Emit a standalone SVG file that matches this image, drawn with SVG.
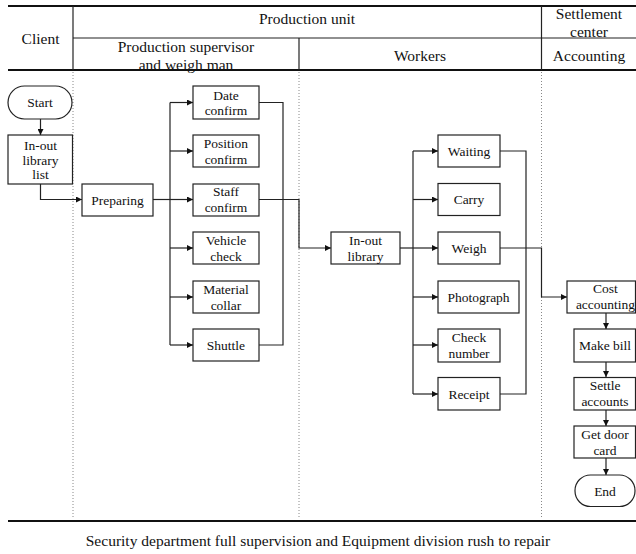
<svg xmlns="http://www.w3.org/2000/svg" width="636" height="554" viewBox="0 0 636 554">
<defs>
<style>
.hdr{font-family:"Liberation Serif","Times New Roman",serif;font-size:15.5px;fill:#111;text-anchor:middle}
.t{font-family:"Liberation Serif","Times New Roman",serif;font-size:13.5px;fill:#111;text-anchor:middle}
.box{fill:#fff;stroke:#222;stroke-width:1.2}
.c{fill:none;stroke:#222;stroke-width:1.2}
.dot{fill:none;stroke:#888;stroke-width:1;stroke-dasharray:1 2}
.rule{stroke:#111;stroke-width:2}
.thin{stroke:#222;stroke-width:1.2}
</style>
<marker id="ah" viewBox="0 0 10 10" refX="10" refY="5" markerWidth="6" markerHeight="6" markerUnits="userSpaceOnUse" orient="auto">
<path d="M0,0 L10,5 L0,10 z" fill="#111"/>
</marker>
</defs>
<rect width="636" height="554" fill="#fff"/>

<g id="header">
<line class="rule" x1="8" y1="6" x2="636" y2="6"/>
<line class="thin" x1="73" y1="38" x2="636" y2="38"/>
<line class="rule" x1="8" y1="70" x2="636" y2="70"/>
<line class="thin" x1="73" y1="6" x2="73" y2="70"/>
<line class="thin" x1="299" y1="38" x2="299" y2="70"/>
<line class="thin" x1="541.5" y1="6" x2="541.5" y2="70"/>
<text class="hdr" x="40.5" y="44">Client</text>
<text class="hdr" x="307" y="24">Production unit</text>
<text class="hdr" x="186" y="52">Production supervisor</text>
<text class="hdr" x="186" y="70">and weigh man</text>
<text class="hdr" x="420" y="61">Workers</text>
<text class="hdr" x="589" y="19">Settlement</text>
<text class="hdr" x="589" y="37">center</text>
<text class="hdr" x="589" y="61">Accounting</text>
</g>

<g id="lanes">
<line class="dot" x1="73" y1="72" x2="73" y2="518"/>
<line class="dot" x1="299" y1="72" x2="299" y2="518"/>
<line class="dot" x1="541.5" y1="72" x2="541.5" y2="518"/>
</g>

<g id="connectors">
<path class="c" d="M40.5,119 V135" marker-end="url(#ah)"/>
<path class="c" d="M40.5,184 V199.5 H82" marker-end="url(#ah)"/>
<path class="c" d="M153,199.5 H170"/>
<path class="c" d="M170,102.5 V345"/>
<path class="c" d="M170,102.5 H193" marker-end="url(#ah)"/>
<path class="c" d="M170,151 H193" marker-end="url(#ah)"/>
<path class="c" d="M170,199.5 H193" marker-end="url(#ah)"/>
<path class="c" d="M170,248 H193" marker-end="url(#ah)"/>
<path class="c" d="M170,297 H193" marker-end="url(#ah)"/>
<path class="c" d="M170,345 H193" marker-end="url(#ah)"/>
<path class="c" d="M259,102.5 H283 V345 H259"/>
<path class="c" d="M259,199.5 H299 V248 H331" marker-end="url(#ah)"/>
<path class="c" d="M400,248 H413"/>
<path class="c" d="M413,151 V394"/>
<path class="c" d="M413,151 H438" marker-end="url(#ah)"/>
<path class="c" d="M413,199.5 H438" marker-end="url(#ah)"/>
<path class="c" d="M413,248 H438" marker-end="url(#ah)"/>
<path class="c" d="M413,297 H438" marker-end="url(#ah)"/>
<path class="c" d="M413,345 H438" marker-end="url(#ah)"/>
<path class="c" d="M413,394 H438" marker-end="url(#ah)"/>
<path class="c" d="M500,151 H526 V394 H500"/>
<path class="c" d="M500,248 H541.5 V297 H567" marker-end="url(#ah)"/>
<path class="c" d="M606,313 V329" marker-end="url(#ah)"/>
<path class="c" d="M606,362 V377" marker-end="url(#ah)"/>
<path class="c" d="M606,410 V426" marker-end="url(#ah)"/>
<path class="c" d="M606,458 V475" marker-end="url(#ah)"/>
</g>

<g id="start"><rect class="box" x="8" y="86" width="64" height="33" rx="16.5"/><text class="t" x="40" y="107">Start</text></g>
<g id="inout-list"><rect class="box" x="8" y="135" width="64.5" height="49"/><text class="t" x="40.5" y="150">In-out</text><text class="t" x="40.5" y="165">library</text><text class="t" x="40.5" y="179">list</text></g>
<g id="preparing"><rect class="box" x="82" y="184" width="71" height="32"/><text class="t" x="117.5" y="204.5">Preparing</text></g>

<g id="date-confirm"><rect class="box" x="193" y="86" width="66" height="33"/><text class="t" x="226" y="99.5">Date</text><text class="t" x="226" y="115">confirm</text></g>
<g id="position-confirm"><rect class="box" x="193" y="135" width="66" height="32"/><text class="t" x="226" y="147.5">Position</text><text class="t" x="226" y="163.5">confirm</text></g>
<g id="staff-confirm"><rect class="box" x="193" y="184" width="66" height="32"/><text class="t" x="226" y="196">Staff</text><text class="t" x="226" y="212">confirm</text></g>
<g id="vehicle-check"><rect class="box" x="193" y="232" width="66" height="32"/><text class="t" x="226" y="244.5">Vehicle</text><text class="t" x="226" y="260.5">check</text></g>
<g id="material-collar"><rect class="box" x="193" y="281" width="66" height="32"/><text class="t" x="226" y="293.5">Material</text><text class="t" x="226" y="309.5">collar</text></g>
<g id="shuttle"><rect class="box" x="193" y="329" width="66" height="32"/><text class="t" x="226" y="350">Shuttle</text></g>

<g id="inout-library"><rect class="box" x="331" y="232" width="69" height="32"/><text class="t" x="365.5" y="244.5">In-out</text><text class="t" x="365.5" y="260.5">library</text></g>

<g id="waiting"><rect class="box" x="438" y="135" width="62" height="32"/><text class="t" x="469" y="155.5">Waiting</text></g>
<g id="carry"><rect class="box" x="438" y="183.5" width="62" height="32"/><text class="t" x="469" y="204">Carry</text></g>
<g id="weigh"><rect class="box" x="438" y="232" width="62" height="32"/><text class="t" x="469" y="252.5">Weigh</text></g>
<g id="photograph"><rect class="box" x="438" y="281" width="81" height="32"/><text class="t" x="478.5" y="301.5">Photograph</text></g>
<g id="check-number"><rect class="box" x="438" y="329" width="62" height="33"/><text class="t" x="469" y="341.5">Check</text><text class="t" x="469" y="357.5">number</text></g>
<g id="receipt"><rect class="box" x="438" y="377.5" width="62" height="32.5"/><text class="t" x="469" y="398.5">Receipt</text></g>

<g id="cost-accounting"><rect class="box" x="567" y="281" width="68.5" height="32"/><text class="t" x="605.5" y="293">Cost</text><text class="t" x="605.5" y="309">accounting</text></g>
<g id="make-bill"><rect class="box" x="574" y="329" width="61.5" height="33"/><text class="t" x="605" y="350">Make bill</text></g>
<g id="settle-accounts"><rect class="box" x="574" y="377.5" width="61.5" height="32.5"/><text class="t" x="605" y="390">Settle</text><text class="t" x="605" y="405.5">accounts</text></g>
<g id="get-door-card"><rect class="box" x="574" y="426" width="61.5" height="32"/><text class="t" x="605" y="438.5">Get door</text><text class="t" x="605" y="454.5">card</text></g>
<g id="end"><rect class="box" x="575" y="475" width="60" height="31.5" rx="15.5"/><text class="t" x="605" y="495.5">End</text></g>

<g id="footer">
<line class="rule" x1="8" y1="521" x2="636" y2="521"/>
<text class="hdr" x="318" y="546">Security department full supervision and Equipment division rush to repair</text>
</g>
</svg>
